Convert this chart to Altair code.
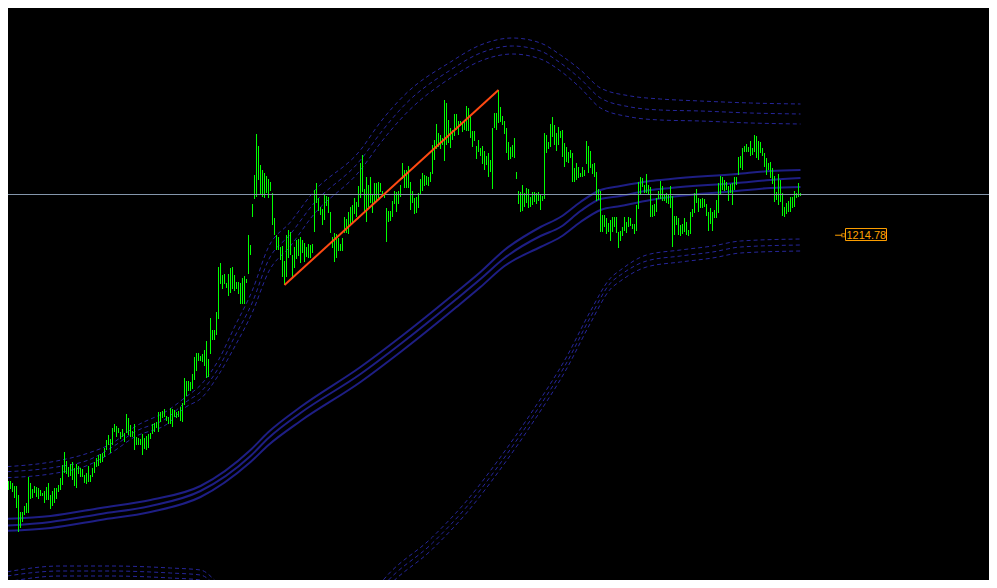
import altair as alt
import pandas as pd

# ---- price bars (high / low), one per bar index 0..400 ----
HIGH = [
    948, 948, 956, 963, 969, 969, 967, 964, 964, 955,
    938, 938, 944, 947, 973, 967, 961, 964, 963, 962,
    960, 957, 959, 963, 967, 955, 959, 962, 962, 965,
    972, 985, 998, 989, 983, 986, 988, 982, 986, 984,
    982, 981, 975, 977, 984, 975, 982, 988, 992, 995,
    996, 997, 1002, 1010, 1015, 1011, 1022, 1026, 1024, 1022,
    1018, 1021, 1017, 1036, 1032, 1025, 1019, 1026, 1013, 1012,
    1011, 1016, 1012, 1014, 1016, 1017, 1026, 1027, 1028, 1038,
    1038, 1039, 1041, 1034, 1033, 1042, 1041, 1040, 1038, 1039,
    1043, 1047, 1072, 1069, 1069, 1068, 1076, 1093, 1097, 1097,
    1094, 1096, 1100, 1109, 1091, 1132, 1120, 1120, 1138, 1183,
    1187, 1175, 1176, 1167, 1176, 1182, 1183, 1175, 1168, 1168,
    1167, 1172, 1174, 1171, 1215, 1205, 1246, 1275, 1316, 1304,
    1285, 1280, 1277, 1274, 1271, 1268, 1257, 1232, 1215, 1213,
    1203, 1204, 1189, 1215, 1220, 1218, 1195, 1203, 1210, 1211,
    1213, 1210, 1207, 1203, 1206, 1205, 1206, 1260, 1267, 1252,
    1243, 1241, 1255, 1254, 1253, 1238, 1213, 1217, 1216, 1212,
    1206, 1212, 1233, 1231, 1238, 1243, 1245, 1252, 1248, 1264,
    1287, 1295, 1261, 1273, 1265, 1273, 1255, 1267, 1267, 1268,
    1267, 1259, 1257, 1242, 1239, 1239, 1249, 1259, 1258, 1259,
    1265, 1287, 1280, 1280, 1284, 1268, 1259, 1252, 1253, 1257,
    1271, 1277, 1275, 1274, 1273, 1278, 1305, 1310, 1326, 1317,
    1315, 1312, 1350, 1347, 1330, 1322, 1320, 1336, 1336, 1329,
    1329, 1328, 1328, 1344, 1342, 1335, 1319, 1319, 1304, 1310,
    1302, 1304, 1299, 1294, 1297, 1290, 1322, 1337, 1337, 1360,
    1343, 1334, 1329, 1322, 1308, 1303, 1305, 1312, 1278, 1259,
    1258, 1265, 1257, 1262, 1261, 1253, 1258, 1258, 1257, 1258,
    1255, 1254, 1317, 1315, 1308, 1326, 1333, 1325, 1317, 1323,
    1319, 1320, 1307, 1303, 1298, 1300, 1297, 1282, 1287, 1283,
    1277, 1283, 1280, 1309, 1304, 1299, 1286, 1287, 1278, 1261,
    1259, 1235, 1235, 1232, 1227, 1230, 1233, 1233, 1233, 1218,
    1219, 1223, 1233, 1228, 1233, 1232, 1226, 1226, 1245, 1268,
    1273, 1272, 1265, 1276, 1265, 1263, 1245, 1246, 1252, 1259,
    1269, 1264, 1255, 1257, 1255, 1264, 1254, 1234, 1234, 1232,
    1225, 1226, 1232, 1228, 1220, 1238, 1241, 1257, 1261, 1252,
    1251, 1252, 1251, 1246, 1238, 1242, 1238, 1240, 1250, 1267,
    1274, 1273, 1270, 1268, 1264, 1266, 1267, 1273, 1273, 1293,
    1294, 1302, 1304, 1306, 1303, 1309, 1302, 1315, 1314, 1309,
    1308, 1302, 1297, 1292, 1287, 1288, 1282, 1274, 1258, 1276,
    1270, 1257, 1243, 1247, 1249, 1253, 1253, 1259, 1257, 1267,
    1257,
]
LOW = [
    940, 935, 937, 949, 960, 961, 958, 952, 942, 918,
    922, 928, 935, 937, 937, 951, 952, 957, 953, 951,
    954, 954, 947, 950, 950, 941, 944, 947, 951, 958,
    960, 965, 977, 976, 973, 974, 970, 964, 962, 976,
    973, 973, 967, 966, 968, 968, 973, 977, 983, 984,
    987, 988, 993, 1000, 1005, 997, 1005, 1018, 1013, 1017,
    1011, 1013, 1008, 1017, 1015, 1013, 1013, 1000, 1005, 1005,
    1005, 995, 1001, 1000, 1002, 1011, 1016, 1018, 1022, 1018,
    1028, 1032, 1033, 1029, 1026, 1026, 1023, 1033, 1032, 1033,
    1029, 1028, 1045, 1054, 1059, 1059, 1061, 1070, 1079, 1089,
    1089, 1088, 1084, 1072, 1073, 1096, 1110, 1110, 1115, 1131,
    1166, 1161, 1166, 1162, 1154, 1157, 1161, 1159, 1161, 1156,
    1146, 1146, 1146, 1167, 1176, 1195, 1233, 1251, 1253, 1270,
    1256, 1253, 1252, 1257, 1252, 1259, 1225, 1215, 1200, 1200,
    1190, 1173, 1165, 1173, 1192, 1195, 1173, 1182, 1191, 1194,
    1187, 1197, 1188, 1193, 1192, 1192, 1197, 1218, 1247, 1239,
    1235, 1225, 1230, 1244, 1237, 1217, 1202, 1188, 1192, 1199,
    1199, 1199, 1217, 1217, 1216, 1225, 1228, 1236, 1233, 1243,
    1252, 1258, 1238, 1228, 1243, 1247, 1237, 1247, 1248, 1252,
    1258, 1253, 1252, 1208, 1228, 1229, 1233, 1246, 1238, 1246,
    1253, 1271, 1262, 1262, 1262, 1240, 1247, 1236, 1237, 1242,
    1256, 1259, 1264, 1265, 1264, 1268, 1276, 1290, 1301, 1303,
    1301, 1305, 1289, 1305, 1307, 1302, 1310, 1314, 1320, 1315,
    1324, 1318, 1320, 1319, 1319, 1312, 1303, 1309, 1291, 1298,
    1294, 1286, 1280, 1285, 1273, 1278, 1261, 1322, 1320, 1327,
    1328, 1325, 1316, 1297, 1290, 1291, 1293, 1292, 1271, 1246,
    1238, 1239, 1243, 1247, 1242, 1243, 1245, 1248, 1246, 1249,
    1240, 1249, 1251, 1297, 1301, 1303, 1313, 1305, 1299, 1305,
    1312, 1293, 1283, 1288, 1287, 1292, 1268, 1268, 1270, 1272,
    1273, 1273, 1274, 1286, 1277, 1282, 1276, 1273, 1249, 1250,
    1218, 1218, 1223, 1216, 1218, 1209, 1218, 1223, 1217, 1202,
    1209, 1214, 1219, 1217, 1223, 1224, 1221, 1216, 1219, 1241,
    1256, 1263, 1257, 1257, 1255, 1233, 1233, 1234, 1238, 1251,
    1251, 1249, 1249, 1247, 1246, 1242, 1203, 1215, 1225, 1215,
    1214, 1216, 1218, 1215, 1214, 1216, 1233, 1237, 1247, 1238,
    1242, 1242, 1243, 1234, 1219, 1226, 1219, 1232, 1232, 1237,
    1256, 1260, 1259, 1260, 1249, 1257, 1245, 1260, 1265, 1275,
    1282, 1280, 1298, 1298, 1298, 1294, 1295, 1298, 1292, 1290,
    1297, 1294, 1283, 1275, 1280, 1272, 1266, 1248, 1250, 1245,
    1248, 1234, 1233, 1236, 1238, 1238, 1242, 1243, 1252, 1253,
    1254,
]

# ---- moving-average band (three solid lines) ----
MA_IDX = [0, 25, 50, 75, 100, 125, 134, 150, 180, 200, 228, 240, 252,
          270, 280, 290, 300, 310, 325, 335, 368, 385, 400]
MA_1 = [931, 934, 942, 950, 964, 1000, 1018, 1043, 1083, 1113, 1158, 1178, 1200,
        1223, 1233, 1248, 1260, 1264, 1269, 1271, 1276, 1279, 1280]
MA_2 = [924, 928, 936, 944, 959, 994, 1012, 1037, 1076, 1106, 1151, 1171, 1192,
        1214, 1223, 1239, 1251, 1254, 1260, 1262, 1267, 1270, 1272]
MA_3 = [919, 922, 930, 938, 953, 988, 1005, 1029, 1068, 1098, 1143, 1163, 1184,
        1203, 1213, 1228, 1240, 1244, 1250, 1253, 1259, 1262, 1263]

# ---- upper envelope (three dashed lines) ----
UP_IDX = [0, 28, 44, 56, 67, 84, 92, 101, 109, 117, 126, 134, 145, 156, 180,
          190, 202, 225, 240, 256, 270, 280, 290, 300, 315, 330, 350, 375, 400]
UP_1 = [983, 989, 997, 1007, 1023, 1040, 1052, 1067, 1090, 1123, 1160, 1203, 1228,
        1257, 1300, 1328, 1355, 1388, 1405, 1412, 1407, 1395, 1380, 1362, 1354,
        1351, 1349, 1347, 1346]
UP_2 = [978, 983, 990, 1003, 1018, 1033, 1047, 1060, 1082, 1113, 1148, 1190, 1216,
        1245, 1290, 1317, 1345, 1380, 1397, 1404, 1399, 1387, 1371, 1352, 1343,
        1340, 1339, 1337, 1336]
UP_3 = [972, 977, 985, 998, 1013, 1027, 1042, 1053, 1075, 1103, 1138, 1178, 1204,
        1234, 1280, 1307, 1335, 1372, 1389, 1396, 1391, 1379, 1362, 1342, 1333,
        1330, 1329, 1327, 1326]

# ---- lower envelope (three dashed lines) ----
LO_IDX = [0, 30, 55, 85, 100, 107, 115, 150, 180, 191, 216, 233, 250, 266, 283,
          295, 305, 310, 323, 340, 356, 370, 400]
LO_1 = [877, 884, 884, 882, 880, 870, 850, 810, 838, 869, 913, 949, 993, 1039,
        1093, 1139, 1172, 1180, 1195, 1200, 1204, 1209, 1211]
LO_2 = [873, 879, 879, 877, 875, 865, 845, 805, 832, 863, 907, 943, 987, 1033,
        1087, 1133, 1167, 1175, 1189, 1194, 1198, 1203, 1205]
LO_3 = [867, 874, 874, 872, 870, 860, 840, 800, 826, 857, 901, 937, 981, 1027,
        1081, 1127, 1161, 1169, 1183, 1188, 1192, 1197, 1199]

# ---- trend line, bid line, price label ----
TREND_IDX = [142, 249]
TREND_PRICE = [1165, 1360]
BID_PRICE = 1255.5
LABEL_TEXT = "1214.78"
LABEL_PRICE = 1214.78

# ---------------------------------------------------------------
n = min(len(HIGH), len(LOW))
bars_df = pd.DataFrame({"i": list(range(n)), "high": HIGH[:n], "low": LOW[:n]})


def long(idx, series):
    rows = []
    for name, vals in series.items():
        for k, v in zip(idx, vals):
            rows.append({"i": k, "p": v, "s": name})
    return pd.DataFrame(rows)


ma_df = long(MA_IDX, {"ma1": MA_1, "ma2": MA_2, "ma3": MA_3})
env_df = pd.concat([
    long(UP_IDX, {"u1": UP_1, "u2": UP_2, "u3": UP_3}),
    long(LO_IDX, {"l1": LO_1, "l2": LO_2, "l3": LO_3}),
])
trend_df = pd.DataFrame({"i": TREND_IDX, "p": TREND_PRICE})
bid_df = pd.DataFrame({"p": [BID_PRICE]})

xs = alt.Scale(domain=[3.75, 494.25], nice=False, zero=False)
ys = alt.Scale(domain=[870, 1442], nice=False, zero=False)

X = alt.X("i:Q", scale=xs, axis=None)
Y = alt.Y("p:Q", scale=ys, axis=None)

env = alt.Chart(env_df).mark_line(
    color="#26269a", strokeWidth=1, strokeDash=[4, 3], interpolate="monotone", clip=True
).encode(x=X, y=Y, detail="s:N")

ma = alt.Chart(ma_df).mark_line(
    color="#1e1e84", strokeWidth=2, interpolate="monotone", clip=True
).encode(x=X, y=Y, detail="s:N")

bars = alt.Chart(bars_df).mark_rule(color="#00ff00", strokeWidth=1, clip=True).encode(
    x=X,
    y=alt.Y("low:Q", scale=ys, axis=None),
    y2="high:Q",
)

bid = alt.Chart(bid_df).mark_rule(color="#8496ab", strokeWidth=1).encode(
    y=alt.Y("p:Q", scale=ys, axis=None)
)

trend = alt.Chart(trend_df).mark_line(color="#ff4a12", strokeWidth=2, clip=True).encode(
    x=X, y=Y
)

# price label anchored at a future bar position
lab_df = pd.DataFrame({
    "i0": [422.5], "i1": [443.0],
    "p0": [LABEL_PRICE - 5.3], "p1": [LABEL_PRICE + 6.7],
    "im": [432.9], "p": [LABEL_PRICE], "t": [LABEL_TEXT],
    "a0": [417.3], "a1": [421.0], "sq": [421.4],
})
lab_box = alt.Chart(lab_df).mark_rect(fill="black", stroke="#ffa000", strokeWidth=1).encode(
    x=alt.X("i0:Q", scale=xs, axis=None), x2="i1:Q",
    y=alt.Y("p0:Q", scale=ys, axis=None), y2="p1:Q",
)
lab_tick = alt.Chart(lab_df).mark_rule(color="#ffa000", strokeWidth=1).encode(
    x=alt.X("a0:Q", scale=xs, axis=None), x2="a1:Q",
    y=alt.Y("p:Q", scale=ys, axis=None),
)
lab_sq = alt.Chart(lab_df).mark_point(
    shape="square", size=10, color="#ffa000", filled=False, strokeWidth=1
).encode(x=alt.X("sq:Q", scale=xs, axis=None), y=alt.Y("p:Q", scale=ys, axis=None))
lab_txt = alt.Chart(lab_df).mark_text(
    color="#ffa000", font="Liberation Sans", fontSize=11, align="center", baseline="middle", dy=1
).encode(x=alt.X("im:Q", scale=xs, axis=None), y=alt.Y("p:Q", scale=ys, axis=None), text="t:N")

chart = alt.layer(env, ma, bars, bid, trend, lab_tick, lab_sq, lab_box, lab_txt).properties(
    width=981, height=572, background="black", padding=0, autosize="none"
).configure_view(stroke=None)

chart.save("out.html", embed_options={"renderer": "svg", "actions": False})
